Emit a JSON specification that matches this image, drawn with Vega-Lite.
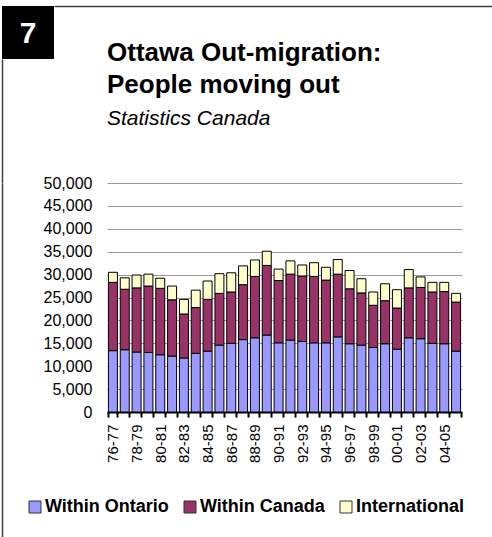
{
  "$schema": "https://vega.github.io/schema/vega-lite/v6.json",
  "padding": {"left": 2, "top": 6, "right": 0, "bottom": 0},
  "background": "white",
  "spacing": -143,
  "config": {"font": "Liberation Sans", "view": {"stroke": null}},
  "vconcat": [
    {
      "spacing": 0,
      "vconcat": [
        {
          "spacing": 0,
          "hconcat": [
            {
              "width": 52,
              "height": 53,
              "view": {"fill": "black", "stroke": null},
              "data": {"values": [{"label": "7"}]},
              "mark": {"type": "text", "fontSize": 30, "fontWeight": "bold", "color": "white", "font": "Liberation Sans", "dy": 1},
              "encoding": {"text": {"field": "label"}}
            },
            {
              "width": 440,
              "height": 1,
              "data": {"values": []},
              "mark": "point",
              "encoding": {
                "x": {"field": "v", "type": "quantitative", "scale": {"domain": [0, 1]},
                  "axis": {"orient": "top", "title": null, "labels": false, "ticks": false, "grid": false, "domain": true, "domainColor": "#404040", "domainWidth": 1.5}}
              }
            }
          ]
        },
        {
          "width": 1,
          "height": 124,
          "data": {"values": []},
          "mark": "point",
          "encoding": {
            "y": {"field": "v", "type": "quantitative", "scale": {"domain": [0, 1]},
              "axis": {"orient": "left", "title": null, "labels": false, "ticks": false, "grid": false, "domain": true, "domainColor": "#404040", "domainWidth": 1.5}}
          }
        }
      ]
    },
    {
      "spacing": 0,
      "hconcat": [
        {
          "width": 41,
          "height": 360,
          "data": {"values": []},
          "mark": "point",
          "encoding": {
            "y": {"field": "v", "type": "quantitative", "scale": {"domain": [0, 1]},
              "axis": {"orient": "left", "title": null, "labels": false, "ticks": false, "grid": false, "domain": true, "domainColor": "#404040", "domainWidth": 1.5}}
          }
        },
        {
          "width": 355,
          "height": 229,
          "data": {"values": [
            {"year": "76-77", "Within Ontario": 13400, "Within Canada": 14900, "International": 2200},
            {"year": "77-78", "Within Ontario": 13600, "Within Canada": 13200, "International": 2500},
            {"year": "78-79", "Within Ontario": 13100, "Within Canada": 14000, "International": 2800},
            {"year": "79-80", "Within Ontario": 13000, "Within Canada": 14500, "International": 2600},
            {"year": "80-81", "Within Ontario": 12500, "Within Canada": 14500, "International": 2200},
            {"year": "81-82", "Within Ontario": 12200, "Within Canada": 12300, "International": 3000},
            {"year": "82-83", "Within Ontario": 11800, "Within Canada": 9600, "International": 3200},
            {"year": "83-84", "Within Ontario": 12800, "Within Canada": 10000, "International": 3800},
            {"year": "84-85", "Within Ontario": 13300, "Within Canada": 11300, "International": 4000},
            {"year": "85-86", "Within Ontario": 14600, "Within Canada": 11300, "International": 4300},
            {"year": "86-87", "Within Ontario": 15000, "Within Canada": 11200, "International": 4200},
            {"year": "87-88", "Within Ontario": 15800, "Within Canada": 12000, "International": 4100},
            {"year": "88-89", "Within Ontario": 16200, "Within Canada": 13400, "International": 3600},
            {"year": "89-90", "Within Ontario": 16800, "Within Canada": 15200, "International": 3100},
            {"year": "90-91", "Within Ontario": 15100, "Within Canada": 13600, "International": 2500},
            {"year": "91-92", "Within Ontario": 15700, "Within Canada": 14400, "International": 2900},
            {"year": "92-93", "Within Ontario": 15400, "Within Canada": 14300, "International": 2400},
            {"year": "93-94", "Within Ontario": 15100, "Within Canada": 14500, "International": 3000},
            {"year": "94-95", "Within Ontario": 15100, "Within Canada": 13700, "International": 2800},
            {"year": "95-96", "Within Ontario": 16400, "Within Canada": 13700, "International": 3200},
            {"year": "96-97", "Within Ontario": 14900, "Within Canada": 12000, "International": 4000},
            {"year": "97-98", "Within Ontario": 14600, "Within Canada": 11400, "International": 3100},
            {"year": "98-99", "Within Ontario": 14100, "Within Canada": 9200, "International": 2900},
            {"year": "99-00", "Within Ontario": 14900, "Within Canada": 9400, "International": 3700},
            {"year": "00-01", "Within Ontario": 13700, "Within Canada": 9000, "International": 4000},
            {"year": "01-02", "Within Ontario": 16200, "Within Canada": 10900, "International": 4000},
            {"year": "02-03", "Within Ontario": 16000, "Within Canada": 11200, "International": 2300},
            {"year": "03-04", "Within Ontario": 15000, "Within Canada": 11200, "International": 2100},
            {"year": "04-05", "Within Ontario": 14900, "Within Canada": 11400, "International": 2000},
            {"year": "05-06", "Within Ontario": 13300, "Within Canada": 10700, "International": 1900}
          ]},
          "transform": [{"fold": ["Within Ontario", "Within Canada", "International"], "as": ["series", "value"]}],
          "title": {
            "text": ["Ottawa Out-migration:", "People moving out"],
            "subtitle": "Statistics Canada",
            "anchor": "start",
            "frame": "group",
            "font": "Liberation Sans",
            "fontSize": 26,
            "fontWeight": "bold",
            "lineHeight": 32,
            "color": "black",
            "subtitleFont": "Liberation Sans",
            "subtitleFontSize": 21,
            "subtitleFontStyle": "italic",
            "subtitleColor": "black",
            "subtitlePadding": 10,
            "offset": 46
          },
          "mark": {"type": "bar", "stroke": "black", "strokeWidth": 1},
          "encoding": {
            "x": {
              "field": "year", "type": "ordinal", "sort": null,
              "scale": {"paddingInner": 0.24, "paddingOuter": 0.12},
              "axis": {
                "title": null, "domainColor": "black", "domainWidth": 2,
                "tickColor": "black", "tickWidth": 2, "tickSize": 5, "tickBand": "extent",
                "labelAngle": -90, "labelFontSize": 15, "labelPadding": 7, "labelColor": "black",
                "labelOverlap": false,
                "labelExpr": "round(datum.index * 29) % 2 === 0 ? datum.label : ''"
              }
            },
            "y": {
              "field": "value", "type": "quantitative", "stack": "zero",
              "scale": {"domain": [0, 50000]},
              "axis": {
                "title": null, "grid": true, "gridColor": "#9a9a9a", "gridWidth": 1,
                "domain": false, "ticks": false, "labelFontSize": 16, "labelPadding": 15,
                "labelColor": "black", "format": ",.0f",
                "values": [0, 5000, 10000, 15000, 20000, 25000, 30000, 35000, 40000, 45000, 50000]
              }
            },
            "color": {
              "field": "series", "type": "nominal",
              "scale": {"domain": ["Within Ontario", "Within Canada", "International"], "range": ["#9999FF", "#993366", "#FFFFCC"]},
              "legend": {
                "orient": "none", "legendX": 24, "legendY": 492, "direction": "horizontal",
                "title": null, "symbolType": "square", "symbolSize": 144,
                "symbolStrokeColor": "#333333", "symbolStrokeWidth": 1, "symbolOpacity": 1,
                "labelFontSize": 18, "labelFontWeight": "bold", "labelColor": "black",
                "labelFont": "Liberation Sans", "columnPadding": 12, "labelOffset": 1
              }
            },
            "order": {"field": "series", "sort": "descending"}
          }
        }
      ]
    }
  ]
}
